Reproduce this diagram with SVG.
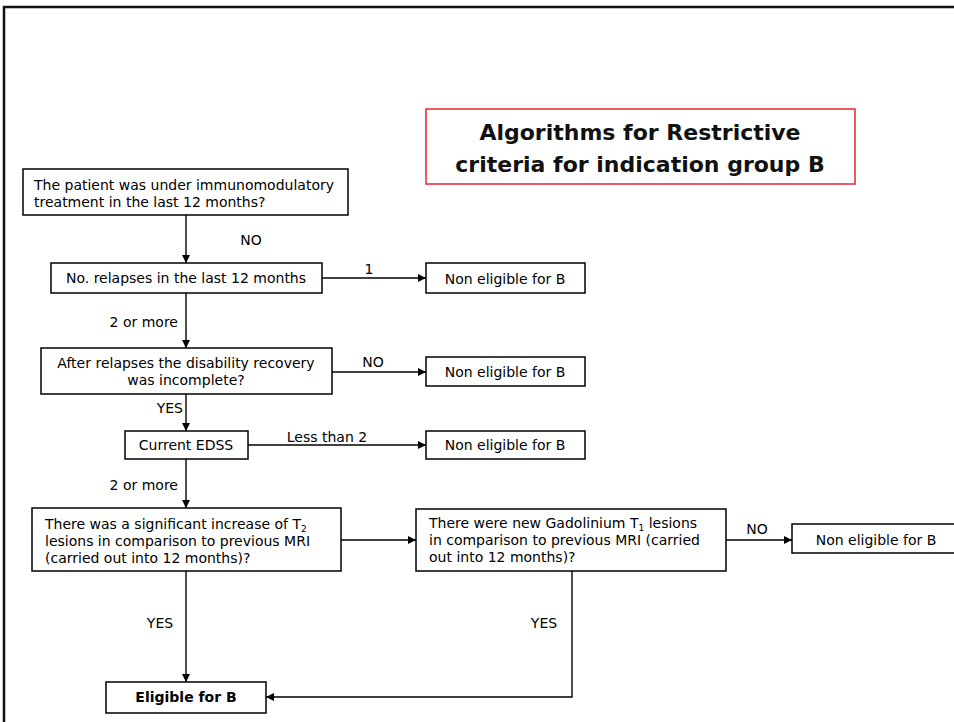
<svg xmlns="http://www.w3.org/2000/svg" width="954" height="722" viewBox="0 0 954 722">
<defs>
<marker id="ah" viewBox="0 0 10 10" refX="10" refY="5" markerWidth="8" markerHeight="8" markerUnits="userSpaceOnUse" orient="auto">
<path d="M0,0 L10,5 L0,10 z" fill="#000"/>
</marker>
<style>
.box{fill:#fff;stroke:#000;stroke-width:1.5}
.t{font-family:"DejaVu Sans","Verdana",sans-serif;font-size:14px;fill:#000}
.c{text-anchor:middle}
.e{text-anchor:end}
.b{font-weight:bold}
.ttl{font-family:"DejaVu Sans","Verdana",sans-serif;font-size:22px;font-weight:bold;fill:#111;text-anchor:middle}
.ln{fill:none;stroke:#000;stroke-width:1.4}
.sub{font-size:9px}
</style>
</defs>
<rect width="954" height="722" fill="#fff"/>
<rect x="4" y="7" width="980" height="760" fill="none" stroke="#111" stroke-width="2.5"/>

<g id="title">
<rect x="426" y="109" width="429" height="75" fill="#fff" stroke="#e8333a" stroke-width="1.6"/>
<text class="ttl" x="640" y="140">Algorithms for Restrictive</text>
<text class="ttl" x="640" y="172">criteria for indication group B</text>
</g>

<g id="connectors">
<line class="ln" x1="186" y1="215" x2="186" y2="263" marker-end="url(#ah)"/>
<text class="t c" x="251" y="245">NO</text>
<line class="ln" x1="322" y1="278" x2="426" y2="278" marker-end="url(#ah)"/>
<text class="t c" x="369" y="274">1</text>
<line class="ln" x1="186" y1="293" x2="186" y2="348" marker-end="url(#ah)"/>
<text class="t e" x="178" y="327">2 or more</text>
<line class="ln" x1="332" y1="372" x2="426" y2="372" marker-end="url(#ah)"/>
<text class="t c" x="373" y="367">NO</text>
<line class="ln" x1="186" y1="394" x2="186" y2="431" marker-end="url(#ah)"/>
<text class="t e" x="183" y="413">YES</text>
<line class="ln" x1="248" y1="445" x2="426" y2="445" marker-end="url(#ah)"/>
<text class="t c" x="327" y="442">Less than 2</text>
<line class="ln" x1="186" y1="459" x2="186" y2="508" marker-end="url(#ah)"/>
<text class="t e" x="178" y="490">2 or more</text>
<line class="ln" x1="341" y1="540" x2="416" y2="540" marker-end="url(#ah)"/>
<line class="ln" x1="726" y1="540" x2="792" y2="540" marker-end="url(#ah)"/>
<text class="t c" x="757" y="534">NO</text>
<line class="ln" x1="186" y1="571" x2="186" y2="682" marker-end="url(#ah)"/>
<text class="t c" x="160" y="628">YES</text>
<polyline class="ln" points="572,571 572,697 266,697" marker-end="url(#ah)"/>
<text class="t c" x="544" y="628">YES</text>
</g>

<g id="n1">
<rect class="box" x="23" y="169" width="325" height="46"/>
<text class="t" x="34" y="190">The patient was under immunomodulatory</text>
<text class="t" x="34" y="207">treatment in the last 12 months?</text>
</g>
<g id="n2">
<rect class="box" x="51" y="263" width="271" height="30"/>
<text class="t c" x="186" y="283">No. relapses in the last 12 months</text>
</g>
<g id="ne1">
<rect class="box" x="426" y="263" width="159" height="30"/>
<text class="t c" x="505" y="284">Non eligible for B</text>
</g>
<g id="n3">
<rect class="box" x="41" y="348" width="291" height="46"/>
<text class="t c" x="186" y="368">After relapses the disability recovery</text>
<text class="t c" x="186" y="385">was incomplete?</text>
</g>
<g id="ne2">
<rect class="box" x="426" y="357" width="159" height="29"/>
<text class="t c" x="505" y="377">Non eligible for B</text>
</g>
<g id="n4">
<rect class="box" x="125" y="431" width="123" height="28"/>
<text class="t c" x="186" y="450">Current EDSS</text>
</g>
<g id="ne3">
<rect class="box" x="426" y="431" width="159" height="28"/>
<text class="t c" x="505" y="450">Non eligible for B</text>
</g>
<g id="n5">
<rect class="box" x="32" y="508" width="309" height="63"/>
<text class="t" x="45" y="529">There was a significant increase of T<tspan class="sub" dy="2.5">2</tspan></text>
<text class="t" x="45" y="546">lesions in comparison to previous MRI</text>
<text class="t" x="45" y="563">(carried out into 12 months)?</text>
</g>
<g id="n6">
<rect class="box" x="416" y="509" width="310" height="62"/>
<text class="t" x="429" y="528">There were new Gadolinium T<tspan class="sub" dy="2.5">1</tspan><tspan dy="-2.5"> lesions</tspan></text>
<text class="t" x="429" y="545">in comparison to previous MRI (carried</text>
<text class="t" x="429" y="562">out into 12 months)?</text>
</g>
<g id="ne4">
<rect class="box" x="792" y="524" width="168" height="29"/>
<text class="t c" x="876" y="545">Non eligible for B</text>
</g>
<g id="n7">
<rect class="box" x="106" y="682" width="160" height="31"/>
<text class="t c b" x="186" y="702">Eligible for B</text>
</g>
</svg>
